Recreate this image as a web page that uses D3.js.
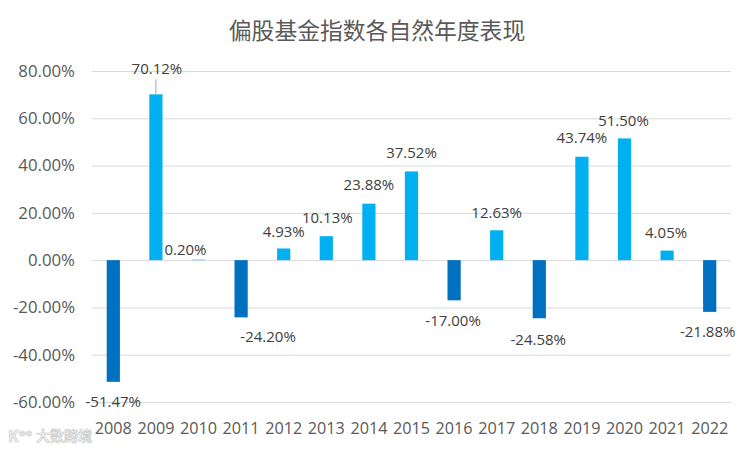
<!DOCTYPE html>
<html>
<head>
<meta charset="utf-8">
<script src="https://cdn.jsdelivr.net/npm/d3@7"></script>
<style>
  body { margin: 0; background: #fff; }
  text { font-family: "Noto Sans CJK SC", "Noto Sans", sans-serif; }
</style>
</head>
<body>
<div id="chart"></div>
<script>
const years = ["2008", "2009", "2010", "2011", "2012", "2013", "2014", "2015",
  "2016", "2017", "2018", "2019", "2020", "2021", "2022"];
const returns = [-51.47, 70.12, 0.20, -24.20, 4.93, 10.13, 23.88, 37.52,
  -17.00, 12.63, -24.58, 43.74, 51.50, 4.05, -21.88];
const yTicks = [-60, -40, -20, 0, 20, 40, 60, 80];
// manual label nudges (px), as placed in the original
const labelDx = [0, 1, -13, 27, 0, 1, 0, 0, -1, 0, -1, 0, -1, -1, -2];
const labelDy = [20, -26, -10, 19, -17, -18, -19, -19, 20, -18, 21, -19, -18, -18, 20];

const width = 754;
const height = 451;
const margin = { top: 71, right: 23, bottom: 49, left: 92 };
const numFont = "'Open Sans', 'Noto Sans', sans-serif";

const svg = d3.select("#chart").append("svg")
  .attr("width", width)
  .attr("height", height);

const x = d3.scaleBand()
  .domain(years)
  .range([margin.left, width - margin.right])
  .paddingInner(0.69)
  .paddingOuter(0.345);

const y = d3.scaleLinear()
  .domain([-60, 80])
  .range([height - margin.bottom, margin.top]);

// title
svg.append("text")
  .attr("x", 377)
  .attr("y", 31)
  .attr("dy", "0.35em")
  .attr("text-anchor", "middle")
  .attr("fill", "#595959")
  .style("font-size", "22.8px")
  .text("偏股基金指数各自然年度表现");

// gridlines
svg.append("g")
  .attr("class", "gridlines")
  .attr("transform", `translate(${margin.left}, 0)`)
  .call(d3.axisLeft(y).tickValues(yTicks).tickFormat("")
    .tickSize(-(width - margin.left - margin.right)))
  .call(g => g.select(".domain").remove())
  .call(g => g.selectAll("line").attr("stroke", "#d9d9d9"));

// y axis labels
svg.append("g")
  .attr("transform", `translate(${margin.left}, 0)`)
  .call(d3.axisLeft(y).tickValues(yTicks).tickSize(0).tickPadding(17)
    .tickFormat(d => d.toFixed(2) + "%"))
  .call(g => g.select(".domain").remove())
  .call(g => g.selectAll("text")
    .attr("fill", "#595959")
    .style("font-size", "16.8px")
    .style("font-family", numFont));

// bars
svg.append("g")
  .selectAll("rect")
  .data(years)
  .join("rect")
  .attr("x", d => x(d))
  .attr("width", x.bandwidth())
  .attr("y", (d, i) => y(Math.max(0, returns[i])))
  .attr("height", (d, i) => Math.abs(y(returns[i]) - y(0)))
  .attr("fill", (d, i) => returns[i] >= 0 ? "#00B0F0" : "#0070C0");

// x axis labels
svg.append("g")
  .attr("transform", `translate(0, ${height - margin.bottom})`)
  .call(d3.axisBottom(x).tickSize(0).tickPadding(20))
  .call(g => g.select(".domain").remove())
  .call(g => g.selectAll("text")
    .attr("fill", "#595959")
    .style("font-size", "16.2px")
    .style("font-family", numFont));

// leader line for 2009
const i09 = years.indexOf("2009");
svg.append("line")
  .attr("x1", x("2009") + x.bandwidth() / 2)
  .attr("x2", x("2009") + x.bandwidth() / 2)
  .attr("y1", y(returns[i09]))
  .attr("y2", y(returns[i09]) - 15)
  .attr("stroke", "#a6a6a6");

// data labels
svg.append("g")
  .selectAll("text")
  .data(years)
  .join("text")
  .attr("x", (d, i) => x(d) + x.bandwidth() / 2 + labelDx[i])
  .attr("y", (d, i) => y(returns[i]) + labelDy[i])
  .attr("dy", "0.35em")
  .attr("text-anchor", "middle")
  .attr("fill", "#404040")
  .style("font-size", "15px")
  .style("font-family", numFont)
  .text((d, i) => returns[i].toFixed(2) + "%");

// watermark
const wm = svg.append("g").attr("opacity", 0.9);
wm.append("text")
  .attr("x", 8)
  .attr("y", 436)
  .attr("dy", "0.35em")
  .attr("fill", "#eeeeee")
  .attr("stroke", "#c8c8c8")
  .attr("stroke-width", 0.7)
  .style("font-size", "16px")
  .style("font-weight", "bold")
  .style("font-family", numFont)
  .text("K°°");
wm.append("text")
  .attr("x", 36)
  .attr("y", 436)
  .attr("dy", "0.35em")
  .attr("fill", "#eeeeee")
  .attr("stroke", "#c8c8c8")
  .attr("stroke-width", 0.7)
  .style("font-size", "14px")
  .style("font-weight", "bold")
  .text("大数跨境");
</script>
</body>
</html>
